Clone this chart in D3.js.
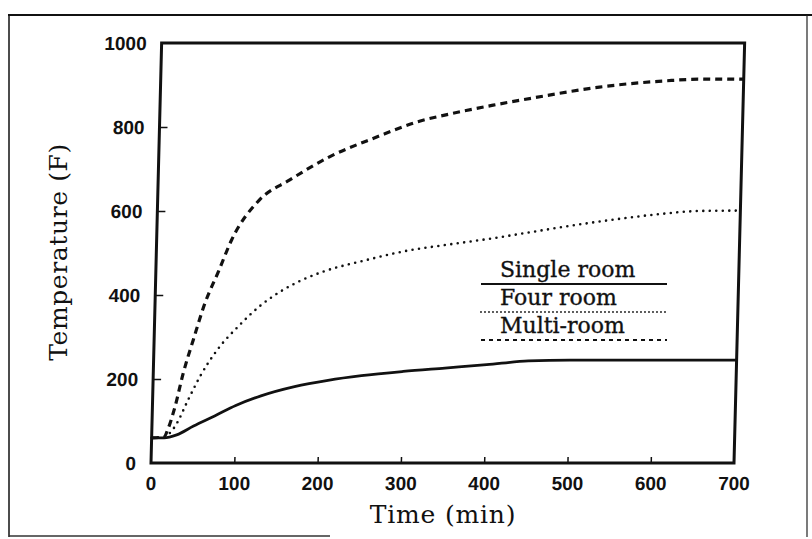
<!DOCTYPE html>
<html><head><meta charset="utf-8">
<script src="https://cdn.jsdelivr.net/npm/d3@7/dist/d3.min.js"></script>
<style>body{margin:0;background:#fff}</style>
</head><body>
<script>
// ---- data ----
const xTicks = [0,100,200,300,400,500,600,700];
const yTicks = [0,200,400,600,800,1000];
const seriesNames = ["Single room","Four room","Multi-room"];
const singleT = [0,15,30,50,75,100,130,170,210,250,300,350,400,450,500,600,700];
const singleV = [60,60,67,88,112,137,160,182,197,208,218,226,234,243,245,245,245];
const fourT = [0,15,22,30,41,56,76,102,125,150,175,200,250,300,350,400,450,500,550,600,650,700];
const fourV = [60,62,72,95,143,205,269,328,372,408,435,455,482,505,520,534,550,566,580,592,600,601];
const multiT = [0,15,19,27,36,47,60,75,90,122,158,205,261,309,348,400,450,527,607,650,700];
const multiV = [60,62,79,133,214,293,381,455,531,626,674,729,776,812,831,852,870,895,910,914,914];
const xLabel = "Time (min)";
const yLabel = "Temperature (F)";

const W = 812, H = 539;
const svg = d3.select("body").append("svg").attr("width", W).attr("height", H);

// outer scanned frame
svg.append("line").attr("x1",8).attr("x2",812).attr("y1",15).attr("y2",15).attr("stroke","#111").attr("stroke-width",2);
svg.append("line").attr("x1",9).attr("x2",9).attr("y1",15).attr("y2",537).attr("stroke","#111").attr("stroke-width",1.5);
svg.append("line").attr("x1",9).attr("x2",330).attr("y1",536).attr("y2",536).attr("stroke","#333").attr("stroke-width",1.5);
svg.append("line").attr("x1",807).attr("x2",807).attr("y1",15).attr("y2",537).attr("stroke","#222").attr("stroke-width",1.2);

const L = 151, R = 734, T = 43, B = 463;
const x = d3.scaleLinear().domain([0,700]).range([L,R]);
const y = d3.scaleLinear().domain([0,1000]).range([B,T]);

const g = svg.append("g").attr("transform", `translate(0,${B}) skewX(-1.45) translate(0,${-B})`);

// axes
const xa = g.append("g").attr("transform",`translate(0,${B})`)
  .call(d3.axisBottom(x).tickValues(xTicks).tickSize(-6).tickFormat(d3.format("d")));
xa.select(".domain").remove();
xa.selectAll(".tick line").attr("stroke","#111").attr("stroke-width",1.5)
  .filter(d => d===0||d===700).remove();
xa.selectAll("text").attr("y",27).attr("dy",0).attr("fill","#111")
  .style("font-family","Liberation Sans, Arial, sans-serif").style("font-weight","bold").style("font-size","19px");

const ya = g.append("g").attr("transform",`translate(${L},0)`)
  .call(d3.axisLeft(y).tickValues(yTicks).tickSize(-8).tickFormat(d3.format("d")));
ya.select(".domain").remove();
ya.selectAll(".tick line").attr("stroke","#111").attr("stroke-width",1.5)
  .filter(d => d===0||d===1000).remove();
ya.selectAll("text").attr("x",-15).attr("fill","#111")
  .style("font-family","Liberation Sans, Arial, sans-serif").style("font-weight","bold").style("font-size","19px");

// plot frame
g.append("rect").attr("x",L).attr("y",T).attr("width",R-L).attr("height",B-T)
  .attr("fill","none").attr("stroke","#111").attr("stroke-width",3);

// curves
const line = d3.line().x(d=>x(d[0])).y(d=>y(d[1])).curve(d3.curveMonotoneX);
const zip = (a,b)=>a.map((t,i)=>[t,b[i]]);
g.append("path").datum(zip(singleT,singleV)).attr("d",line)
  .attr("fill","none").attr("stroke","#111").attr("stroke-width",2.8);
g.append("path").datum(zip(fourT,fourV)).attr("d",line)
  .attr("fill","none").attr("stroke","#111").attr("stroke-width",2.6)
  .attr("stroke-dasharray","0,6.5").attr("stroke-linecap","round");
g.append("path").datum(zip(multiT,multiV)).attr("d",line)
  .attr("fill","none").attr("stroke","#111").attr("stroke-width",3.2)
  .attr("stroke-dasharray","7,5");

// legend
const legY = [277,305,333];
const legDash = [null,"0,4","4,4"];
const leg = svg.append("g");
seriesNames.forEach((n,i)=>{
  leg.append("text").attr("x",500).attr("y",legY[i]).text(n)
    .attr("fill","#111").attr("stroke","#111").attr("stroke-width",0.35)
    .style("font-family","DejaVu Serif, serif").style("font-size","22px");
  const l = leg.append("line").attr("x1",481).attr("x2",667).attr("y1",legY[i]+7).attr("y2",legY[i]+7)
    .attr("stroke","#111").attr("stroke-width", i===0?2.2:1.8);
  if(legDash[i]) l.attr("stroke-dasharray",legDash[i]);
  if(i===1) l.attr("stroke-linecap","round");
});

// axis titles
svg.append("text").attr("x",443).attr("y",523).attr("text-anchor","middle").text(xLabel)
  .attr("fill","#111").style("font-family","DejaVu Serif, serif").style("font-size","25px").style("letter-spacing","0.8px");
svg.append("text").attr("transform","translate(67,252) rotate(-90)").attr("text-anchor","middle").text(yLabel)
  .attr("fill","#111").style("font-family","DejaVu Serif, serif").style("font-size","25px").style("letter-spacing","0.6px");
</script>
</body></html>
